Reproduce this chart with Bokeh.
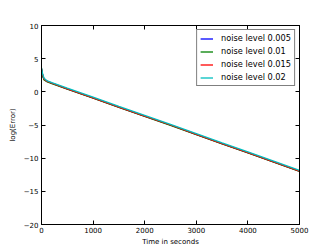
from bokeh.plotting import figure
from bokeh.models import (LinearAxis, FixedTicker, CustomJSTickFormatter, Legend,
                          LegendItem, Range1d)
from bokeh.embed import file_html
from bokeh.resources import INLINE

# ---- data ----
time_s = [0, 25, 50, 100, 150, 200, 500, 1000, 1500, 2000, 2500, 3000, 3500, 4000, 4500, 5000]
err_0005 = [3.4, 2.4, 1.9, 1.6, 1.45, 1.3, 0.45, -0.9, -2.3, -3.65, -5.0, -6.4, -7.8, -9.15, -10.55, -11.95]
err_001 = [3.5, 2.3, 1.8, 1.55, 1.4, 1.25, 0.4, -0.95, -2.35, -3.7, -5.05, -6.45, -7.85, -9.2, -10.6, -12.0]
err_0015 = [3.5, 2.45, 1.95, 1.6, 1.45, 1.3, 0.45, -0.9, -2.3, -3.65, -5.0, -6.4, -7.8, -9.15, -10.55, -11.95]
err_002 = [3.6, 2.6, 2.05, 1.7, 1.55, 1.4, 0.55, -0.8, -2.2, -3.55, -4.9, -6.3, -7.7, -9.05, -10.45, -11.85]
series = [err_0005, err_001, err_0015, err_002]
labels = ["noise level 0.005", "noise level 0.01", "noise level 0.015", "noise level 0.02"]
colors = ["#0000ff", "#008000", "#ff0000", "#00bfbf"]
x_ticks = [0, 1000, 2000, 3000, 4000, 5000]
y_ticks = [-20, -15, -10, -5, 0, 5, 10]

FONT = "DejaVu Sans"

p = figure(frame_width=258, frame_height=199, output_backend="svg", toolbar_location=None,
           x_range=Range1d(0, 5000), y_range=Range1d(-20, 10),
           min_border_left=41, min_border_right=25, min_border_top=25, min_border_bottom=17)
p.xgrid.visible = False
p.ygrid.visible = False
p.outline_line_color = "black"
p.outline_line_width = 1
p.background_fill_color = "white"
p.border_fill_color = "white"

fmt = CustomJSTickFormatter(code="return tick < 0 ? '\u2212' + Math.abs(tick) : tick.toString();")
blank = CustomJSTickFormatter(code="return '';")

def style_axis(ax, ticks, show_labels=True):
    ax.ticker = FixedTicker(ticks=ticks)
    ax.major_tick_in = 4
    ax.major_tick_out = 0
    ax.minor_tick_in = 0
    ax.minor_tick_out = 0
    ax.axis_line_color = "black"
    ax.major_tick_line_color = "black"
    if show_labels:
        ax.formatter = fmt
        ax.major_label_text_font = FONT
        ax.major_label_text_font_size = "7px"
        ax.major_label_text_color = "black"
        ax.major_label_standoff = 2
        ax.axis_label_text_font = FONT
        ax.axis_label_text_font_size = "7px"
        ax.axis_label_text_font_style = "normal"
        ax.axis_label_text_color = "black"
        ax.axis_label_standoff = 2
    else:
        ax.formatter = blank
        ax.major_label_standoff = 0

style_axis(p.xaxis[0], x_ticks)
style_axis(p.yaxis[0], y_ticks)
p.yaxis[0].major_label_standoff = 3
p.yaxis[0].axis_label_standoff = 4
p.xaxis[0].axis_label = "Time in seconds"
p.yaxis[0].axis_label = "log(Error)"

top_ax = LinearAxis()
right_ax = LinearAxis()
style_axis(top_ax, x_ticks, show_labels=False)
style_axis(right_ax, y_ticks, show_labels=False)
p.add_layout(top_ax, "above")
p.add_layout(right_ax, "right")

items = []
for ys, lab, col in zip(series, labels, colors):
    r = p.line(time_s, ys, line_color=col, line_width=1.3)
    items.append(LegendItem(label=lab, renderers=[r]))

legend = Legend(items=items, location="top_right", margin=4, padding=3, spacing=3,
                label_height=9, glyph_height=9, glyph_width=13, label_standoff=8,
                label_text_font=FONT, label_text_font_size="8.2px", label_text_color="black",
                border_line_color="black", border_line_width=1, background_fill_alpha=1)
p.add_layout(legend, "center")

open("out.html", "w").write(file_html(p, INLINE))
